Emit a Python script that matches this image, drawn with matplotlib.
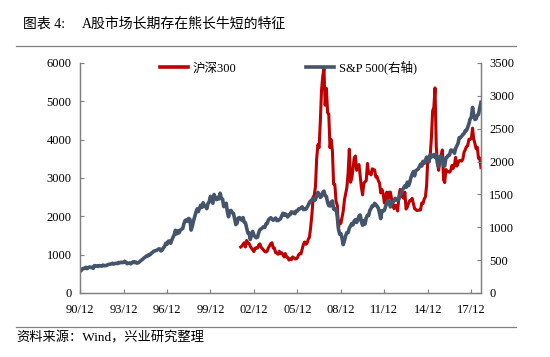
import pandas as pd
import matplotlib
matplotlib.use("Agg")
import matplotlib.pyplot as plt

plt.rcParams["font.family"] = ["Liberation Serif", "Noto Sans CJK SC"]

# --- S&P 500, month end, 1990/12 - 2018/08 ---
sp500 = [330,
    344, 367, 375, 375, 390, 371, 388, 395, 388, 392, 375, 417,
    409, 413, 404, 415, 415, 408, 424, 414, 418, 419, 431, 436,
    439, 443, 452, 440, 450, 451, 448, 464, 459, 468, 462, 466,
    482, 467, 446, 451, 457, 444, 458, 475, 463, 472, 454, 459,
    470, 487, 501, 515, 533, 545, 562, 562, 584, 582, 605, 616,
    636, 640, 646, 654, 669, 671, 640, 652, 687, 705, 757, 741,
    786, 791, 757, 801, 848, 885, 954, 899, 947, 915, 955, 970,
    980, 1049, 1102, 1112, 1091, 1134, 1121, 957, 1017, 1099, 1164, 1229,
    1280, 1238, 1286, 1335, 1302, 1373, 1329, 1320, 1283, 1363, 1389, 1469,
    1394, 1366, 1499, 1452, 1421, 1455, 1431, 1518, 1437, 1429, 1315, 1320,
    1366, 1240, 1160, 1249, 1256, 1224, 1211, 1134, 1041, 1060, 1139, 1148,
    1130, 1107, 1147, 1077, 1067, 990, 912, 916, 815, 886, 936, 880,
    856, 841, 848, 917, 964, 975, 990, 1008, 996, 1051, 1058, 1112,
    1131, 1145, 1126, 1107, 1121, 1141, 1102, 1104, 1115, 1130, 1174, 1212,
    1181, 1204, 1181, 1157, 1192, 1191, 1234, 1220, 1229, 1207, 1249, 1248,
    1280, 1281, 1295, 1311, 1270, 1270, 1277, 1304, 1336, 1378, 1401, 1418,
    1438, 1407, 1421, 1482, 1531, 1503, 1455, 1474, 1527, 1549, 1481, 1468,
    1379, 1331, 1323, 1386, 1400, 1280, 1267, 1283, 1166, 969, 896, 903,
    826, 735, 798, 873, 919, 919, 987, 1021, 1057, 1036, 1096, 1115,
    1074, 1104, 1169, 1187, 1089, 1031, 1102, 1049, 1141, 1183, 1181, 1258,
    1286, 1327, 1326, 1364, 1345, 1321, 1292, 1219, 1131, 1253, 1247, 1258,
    1312, 1366, 1408, 1398, 1310, 1362, 1379, 1407, 1441, 1412, 1416, 1426,
    1498, 1515, 1569, 1598, 1631, 1606, 1686, 1633, 1682, 1757, 1806, 1848,
    1783, 1859, 1872, 1884, 1924, 1960, 1931, 2003, 1972, 2018, 2068, 2059,
    1995, 2105, 2068, 2086, 2107, 2063, 2104, 1972, 1920, 2079, 2080, 2044,
    1940, 1932, 2060, 2065, 2097, 2099, 2174, 2171, 2168, 2126, 2199, 2239,
    2279, 2364, 2363, 2384, 2412, 2423, 2470, 2472, 2519, 2575, 2648, 2674,
    2824, 2714, 2641, 2648, 2705, 2718, 2816, 2901]

# --- CSI 300, month end, 2002/01 - 2018/08 ---
csi300 = [
    1200, 1220, 1270, 1310, 1200, 1370, 1300, 1290, 1220, 1170, 1120, 1080,
    1170, 1180, 1170, 1250, 1280, 1190, 1160, 1120, 1080, 1070, 1090, 1180,
    1230, 1290, 1310, 1170, 1170, 1050, 1040, 1010, 1090, 1030, 1050, 1000,
    940, 1030, 940, 930, 860, 890, 870, 940, 920, 890, 890, 923,
    1000, 1030, 1020, 1140, 1270, 1330, 1270, 1300, 1400, 1460, 1720, 2041,
    2500, 2550, 2780, 3500, 3870, 3790, 4470, 5300, 5650, 5850, 4900, 5339,
    4700, 4670, 3790, 4000, 3700, 2840, 2830, 2390, 2290, 1700, 1870, 1817,
    1990, 2140, 2440, 2590, 2760, 3120, 3750, 2890, 2990, 3230, 3520, 3575,
    3200, 3280, 3350, 3070, 2760, 2560, 2860, 2900, 2930, 3380, 3120, 3128,
    3080, 3240, 3220, 3210, 3020, 3040, 2930, 2870, 2610, 2700, 2600, 2346,
    2460, 2630, 2450, 2630, 2630, 2460, 2330, 2200, 2290, 2250, 2140, 2523,
    2700, 2670, 2500, 2470, 2630, 2190, 2240, 2340, 2410, 2410, 2470, 2331,
    2200, 2180, 2150, 2160, 2160, 2165, 2350, 2330, 2450, 2510, 2810, 3533,
    3430, 3570, 4050, 4750, 4840, 5350, 3820, 3370, 3200, 3530, 3570, 3731,
    2950, 2880, 3220, 3160, 3170, 3150, 3200, 3330, 3250, 3340, 3540, 3310,
    3390, 3450, 3460, 3440, 3490, 3670, 3740, 3820, 3840, 4010, 4010, 4030,
    4300, 4020, 3900, 3760, 3800, 3510, 3520, 3270]

sp_dates = pd.date_range("1990-12-31", periods=len(sp500), freq="ME")
csi_dates = pd.date_range("2002-01-31", periods=len(csi300), freq="ME")

tick_dates = pd.to_datetime(["%d-12-31" % y for y in range(1990, 2018, 3)])
tick_labels = ["90/12", "93/12", "96/12", "99/12", "02/12",
               "05/12", "08/12", "11/12", "14/12", "17/12"]

RED = "#C00000"
GRAY = "#44546A"
AXIS = "#808080"

fig = plt.figure(figsize=(5.5, 3.57), dpi=100)
ax = fig.add_axes([0.1455, 0.1793, 0.729, 0.6443])
ax2 = ax.twinx()

# --- lines (S&P on the twin axis, drawn on top) ---
line_csi, = ax.plot(csi_dates, csi300, color=RED, lw=2.2, label="沪深300")
line_sp, = ax2.plot(sp_dates, sp500, color=GRAY, lw=2.6, label="S&P 500(右轴)")

ax.set_xlim(sp_dates[0], sp_dates[-1])
ax.set_ylim(0, 6000)
ax2.set_ylim(0, 3500)
ax.set_yticks(range(0, 6001, 1000))
ax2.set_yticks(range(0, 3501, 500))
ax.set_xticks(tick_dates)
ax.set_xticklabels(tick_labels)

# --- axes styling ---
for a in (ax, ax2):
    a.spines["top"].set_visible(False)
    for s in ("left", "right", "bottom"):
        a.spines[s].set_color(AXIS)
        a.spines[s].set_linewidth(0.9)
    a.tick_params(direction="in", length=3, width=0.8, color=AXIS,
                  labelsize=9, labelcolor="black")
ax.tick_params(axis="y", pad=6)
ax.tick_params(axis="x", pad=8)
ax2.tick_params(axis="y", pad=6)

# --- legend ---
ax.legend([line_csi, line_sp], [line_csi.get_label(), line_sp.get_label()],
          ncol=2, frameon=False, fontsize=9, handlelength=2.2,
          handletextpad=0.4, columnspacing=5.6,
          loc="center", bbox_to_anchor=(0.52, 0.98))
for lh in ax.get_legend().get_lines():
    lh.set_linewidth(2.6)

# --- title, rules and source ---
fig.text(23 / 550, 1 - 24 / 357, "图表 4:", fontsize=10, va="center")
fig.text(82 / 550, 1 - 24 / 357, "A股市场长期存在熊长牛短的特征", fontsize=10, va="center")
fig.add_artist(plt.Line2D([16 / 550, 516 / 550], [1 - 45.5 / 357] * 2,
                          color=AXIS, lw=0.9))
fig.add_artist(plt.Line2D([16 / 550, 516 / 550], [1 - 327 / 357] * 2,
                          color=AXIS, lw=0.9))
fig.text(16 / 550, 1 - 338 / 357, "资料来源：Wind，兴业研究整理", fontsize=9.5, va="center")

fig.savefig("out.png", dpi=100)
